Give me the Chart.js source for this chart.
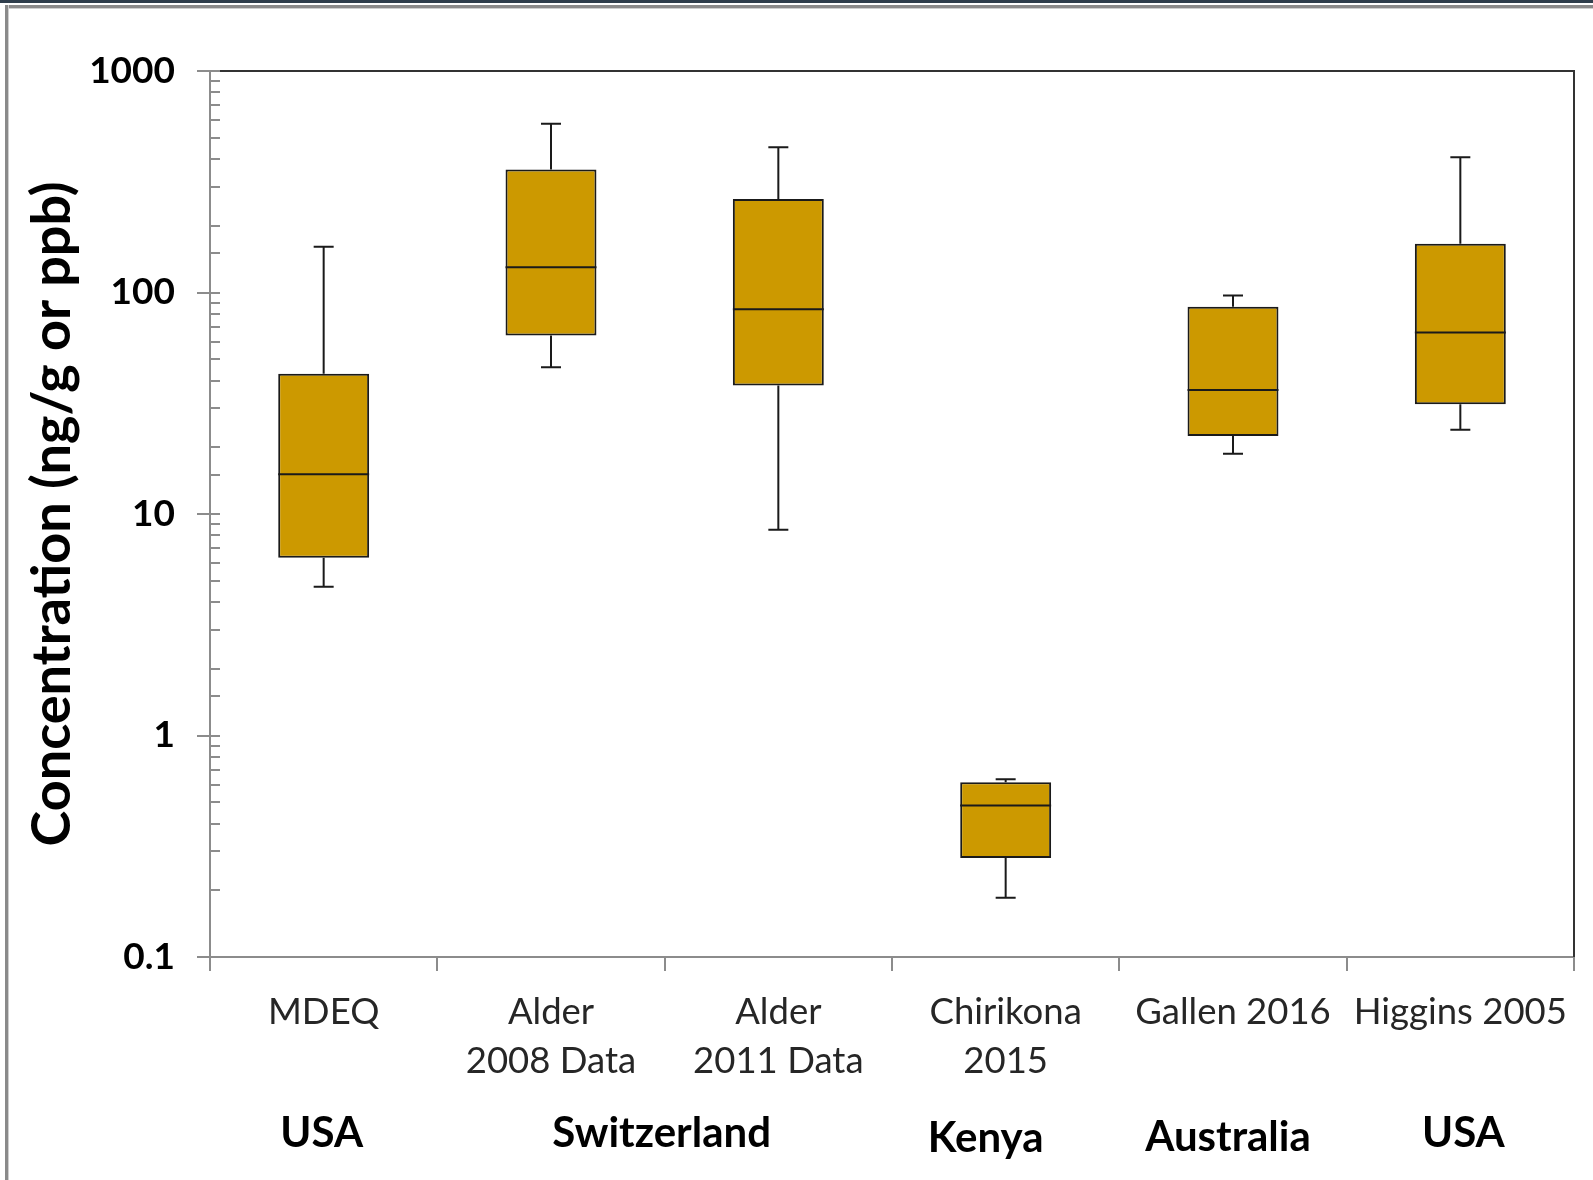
<!DOCTYPE html>
<html>
<head>
<meta charset="utf-8">
<title>Concentration by study</title>
<script src="https://cdn.jsdelivr.net/npm/chart.js@4.4.1/dist/chart.umd.min.js"></script>
<style>
  html, body { margin: 0; padding: 0; background: #ffffff; }
  #wrap { position: relative; width: 1593px; height: 1180px; overflow: hidden; }
  #chart { position: absolute; left: 0; top: 0; }
  .topbar { position: absolute; left: 0; top: 0; width: 1593px; height: 3px; background: #2f3e4c; }
  .frame-top { position: absolute; left: 5px; top: 5px; width: 1588px; height: 3px; background: #8a8a8a; border-bottom: 1px solid #cfcfcf; }
  .frame-left { position: absolute; left: 5px; top: 5px; width: 3px; height: 1175px; background: #8a8a8a; border-right: 1px solid #cfcfcf; }
</style>
</head>
<body>
<div id="wrap">
  <canvas id="chart" width="1593" height="1180"></canvas>
  <div class="topbar"></div>
  <div class="frame-top"></div>
  <div class="frame-left"></div>
</div>
<script>
// Study labels (multi-line) and the country each group of studies belongs to
const categories = [["MDEQ"], ["Alder", "2008 Data"], ["Alder", "2011 Data"], ["Chirikona", "2015"], ["Gallen 2016"], ["Higgins 2005"]];
const countries = ["USA", "Switzerland", "Kenya", "Australia", "USA"];
const countryGroups = [[0], [1, 2], [3], [4], [5]];

// Box-and-whisker statistics, ng/g (ppb)
const minValues    = [4.7, 46, 8.5, 0.185, 18.7, 24];
const q1Values     = [6.35, 64, 38, 0.28, 22.5, 31.3];
const medianValues = [15.1, 130, 84, 0.483, 36.3, 66];
const q3Values     = [43, 359, 264, 0.615, 86.3, 166];
const maxValues    = [161, 578, 453, 0.635, 97, 408];

// Labelled decades on the log axis
const majorTicks = [0.1, 1, 10, 100, 1000];

const BOX_FILL = "#cc9900";
const INK = "#1a1a1a";
const AXIS_GREY = "#8c8c8c";
const FONT = "Lato";

// Small hand nudges for the country captions (text boxes placed by eye)
const countryNudge = [{ dx: -2, dy: 0 }, { dx: -3, dy: 0 }, { dx: -20, dy: 5 }, { dx: -5, dy: 4 }, { dx: 3, dy: 0 }];

Chart.defaults.font.family = FONT;

const isMajor = v => majorTicks.some(m => Math.abs(Math.log10(v) - Math.log10(m)) < 1e-6);

// Whiskers, caps and median lines drawn on top of the floating-bar boxes
const whiskerPlugin = {
  id: "whiskers",
  afterDatasetsDraw(chart) {
    const ctx = chart.ctx;
    const y = chart.scales.y;
    const meta = chart.getDatasetMeta(0);
    ctx.save();
    ctx.strokeStyle = INK;
    ctx.lineWidth = 2;
    meta.data.forEach((bar, i) => {
      const x = bar.x;
      const half = bar.width / 2;
      const capHalf = 10;
      const yMin = y.getPixelForValue(minValues[i]);
      const yQ1 = y.getPixelForValue(q1Values[i]);
      const yMed = y.getPixelForValue(medianValues[i]);
      const yQ3 = y.getPixelForValue(q3Values[i]);
      const yMax = y.getPixelForValue(maxValues[i]);
      ctx.beginPath();
      ctx.moveTo(x, yQ3); ctx.lineTo(x, yMax);
      ctx.moveTo(x - capHalf, yMax); ctx.lineTo(x + capHalf, yMax);
      ctx.moveTo(x, yQ1); ctx.lineTo(x, yMin);
      ctx.moveTo(x - capHalf, yMin); ctx.lineTo(x + capHalf, yMin);
      ctx.moveTo(x - half, yMed); ctx.lineTo(x + half, yMed);
      ctx.stroke();
    });
    ctx.restore();
  }
};

// Plot frame, log-axis tick marks and the country row under the study labels
const framePlugin = {
  id: "frame",
  beforeDatasetsDraw(chart) {
    const { ctx, chartArea: a } = chart;
    ctx.save();
    ctx.strokeStyle = "#333333";
    ctx.lineWidth = 2;
    ctx.beginPath();
    ctx.moveTo(a.left, a.top); ctx.lineTo(a.right, a.top); ctx.lineTo(a.right, a.bottom);
    ctx.stroke();
    ctx.restore();
  },
  afterDraw(chart) {
    const { ctx, chartArea: a } = chart;
    const y = chart.scales.y;
    const x = chart.scales.x;
    ctx.save();
    ctx.strokeStyle = AXIS_GREY;
    ctx.lineWidth = 2;
    ctx.beginPath();
    ctx.moveTo(a.left, a.top - 1); ctx.lineTo(a.left, a.bottom);
    y.ticks.forEach(t => {
      const py = Math.round(y.getPixelForValue(t.value));
      if (isMajor(t.value)) {
        ctx.moveTo(a.left - 13, py); ctx.lineTo(a.left + 10, py);
      } else {
        ctx.moveTo(a.left, py); ctx.lineTo(a.left + 10, py);
      }
    });
    ctx.stroke();

    ctx.fillStyle = "#000000";
    ctx.font = "bold 42px " + FONT;
    ctx.textAlign = "center";
    ctx.textBaseline = "alphabetic";
    countries.forEach((name, k) => {
      const idx = countryGroups[k];
      const cx = idx.reduce((s, i) => s + x.getPixelForValue(i), 0) / idx.length;
      ctx.fillText(name, cx + countryNudge[k].dx, 1147 + countryNudge[k].dy);
    });
    ctx.restore();
  }
};

new Chart(document.getElementById("chart"), {
  type: "bar",
  data: {
    labels: categories,
    datasets: [{
      data: q1Values.map((q1, i) => [q1, q3Values[i]]),
      backgroundColor: BOX_FILL,
      borderColor: INK,
      borderWidth: 2,
      borderSkipped: false,
      barPercentage: 0.4,
      categoryPercentage: 1.0
    }]
  },
  options: {
    responsive: false,
    animation: false,
    layout: { padding: { left: 0, top: 71, right: 19, bottom: 0 } },
    plugins: { legend: { display: false }, tooltip: { enabled: false } },
    scales: {
      x: {
        type: "category",
        offset: true,
        grid: { display: true, offset: true, drawOnChartArea: false, drawTicks: true, tickLength: 14, color: AXIS_GREY, lineWidth: 2 },
        border: { display: true, color: AXIS_GREY, width: 2 },
        ticks: { color: "#262626", font: { size: 36.5, lineHeight: 1.36 }, padding: 16, maxRotation: 0, autoSkip: false },
        afterFit: s => { s.height = 223; }
      },
      y: {
        type: "logarithmic",
        min: 0.1,
        max: 1000,
        grid: { display: false },
        border: { display: false },
        ticks: {
          autoSkip: false,
          color: "#000000",
          padding: 27,
          font: { size: 37, weight: "bold" },
          callback: v => (isMajor(v) ? String(majorTicks.find(m => Math.abs(Math.log10(v) - Math.log10(m)) < 1e-6)) : "")
        },
        title: {
          display: true,
          text: "Concentration (ng/g or ppb)",
          color: "#000000",
          font: { size: 54, weight: "bold", lineHeight: 1.2 },
          padding: { top: 20, bottom: 0 }
        },
        afterFit: s => { s.width = 210; }
      }
    }
  },
  plugins: [whiskerPlugin, framePlugin]
});
</script>
</body>
</html>
